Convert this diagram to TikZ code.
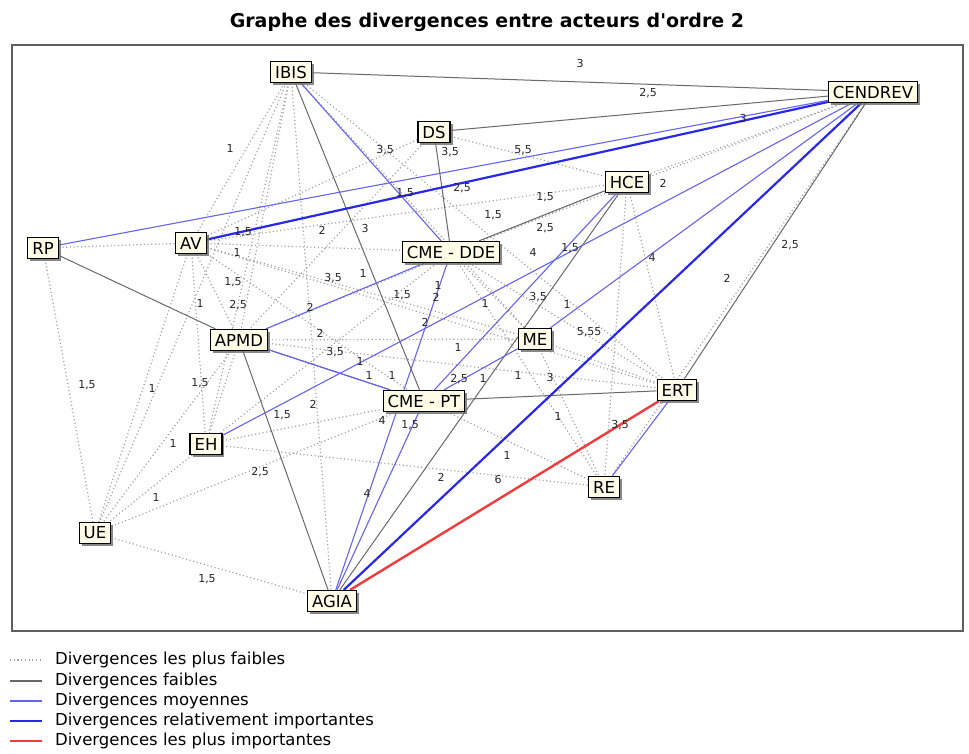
\documentclass[tikz,border=0pt]{standalone}
\usepackage{fontspec}
\setmainfont{DejaVu Sans}
\newfontfamily\ttlfont{DejaVu Sans}
\usetikzlibrary{shadows,backgrounds}
\definecolor{dotc}{RGB}{160,160,160}
\definecolor{weakc}{RGB}{105,105,105}
\definecolor{midc}{RGB}{100,100,240}
\definecolor{strc}{RGB}{40,40,230}
\definecolor{maxc}{RGB}{240,60,60}
\definecolor{boxc}{RGB}{255,253,232}
\definecolor{framec}{RGB}{95,95,95}
\tikzset{
  actor/.style={draw=black, line width=1.2pt, fill=boxc, inner xsep=4.5pt, inner ysep=2pt,
    minimum height=21pt, font=\fontsize{16.5}{17}\selectfont,
    drop shadow={shadow xshift=2.5pt, shadow yshift=-2.5pt, fill=black!55, opacity=0.85}},
  lbl/.style={font=\fontsize{11}{11}\selectfont, inner sep=0.5pt, text=black!85},
  dotl/.style={draw=dotc, line width=1.2pt, dash pattern=on 1.1pt off 2.6pt},
  weakl/.style={draw=weakc, line width=1pt},
  midl/.style={draw=midc, line width=1.1pt},
  strl/.style={draw=strc, line width=2.2pt},
  maxl/.style={draw=maxc, line width=2.4pt},
  legtxt/.style={anchor=west, font=\fontsize{16.5}{17}\selectfont, inner sep=0pt}
}
\begin{document}
\begin{tikzpicture}[x=1pt,y=-1pt]
\useasboundingbox (0,0) rectangle (969,754);
\node[font=\ttlfont\fontsize{19}{21}\selectfont\bfseries] (title) at (487,22) {Graphe des divergences entre acteurs d'ordre 2};

% actors
\node[actor] (ibis) at (291,72) {IBIS};
\node[actor] (cendrev) at (873,92) {CENDREV};
\node[actor] (ds) at (434,132) {DS};
\node[actor] (hce) at (627,182) {HCE};
\node[actor] (rp) at (43,248) {RP};
\node[actor] (av) at (191,243) {AV};
\node[actor] (cmedde) at (451,252) {CME - DDE};
\node[actor] (apmd) at (239,340) {APMD};
\node[actor] (me) at (535,339) {ME};
\node[actor] (cmept) at (424,401) {CME - PT};
\node[actor] (ert) at (677,390) {ERT};
\node[actor] (eh) at (206,444) {EH};
\node[actor] (re) at (604,487) {RE};
\node[actor] (ue) at (95,533) {UE};
\node[actor] (agia) at (332,601) {AGIA};

\begin{pgfonlayer}{background}
\draw[framec, line width=1.8pt] (12,45) rectangle (963,631);
% weakest (dotted)
\foreach \a/\b in {ibis/av, ibis/apmd, ibis/eh, ibis/ue, ibis/agia, ibis/ert, ibis/me,
  rp/av, rp/ue, av/cmedde, av/cmept, av/apmd, av/eh, av/ue, av/me, av/ert, av/hce,
  ds/apmd, ds/hce, ds/av, cendrev/hce, cendrev/cmedde, cendrev/re,
  hce/re, hce/ert, hce/apmd, cmedde/ert, cmedde/me, cmedde/re, cmedde/eh,
  apmd/eh, apmd/me, apmd/ert, apmd/ue, eh/cmept, eh/re, eh/ue,
  ue/agia, ue/cmept, cmept/re, me/ert, me/re}
  \draw[dotl] (\a) -- (\b);
% weak
\foreach \a/\b in {ibis/cendrev, ds/cendrev, ibis/cmept, ds/cmedde, hce/cmedde, hce/agia,
  cmept/ert, apmd/agia, rp/apmd, apmd/cmept, cendrev/ert}
  \draw[weakl] (\a) -- (\b);
% medium
\foreach \a/\b in {rp/cendrev, ibis/cmedde, apmd/cmedde, apmd/cmept, eh/cendrev,
  cmedde/agia, cmept/agia, hce/cmept, cendrev/me, me/cmept, ert/re}
  \draw[midl] (\a) -- (\b);
% relatively important
\draw[strl] (av) -- (cendrev);
\draw[strl] (agia) -- (cendrev);
% most important
\draw[maxl] (agia) -- (ert);
\end{pgfonlayer}

% edge labels
\foreach \t/\x/\y [count=\i] in {3/580/63, {2,5}/648/93, 3/743/118, 1/230/148, {3,5}/385/150,
  {3,5}/450/152, {5,5}/523/150, {2,5}/462/188, {1,5}/405/193, {1,5}/545/197, 2/663/183,
  {1,5}/493/215, {1,5}/243/232, 2/322/230, 3/365/228, {2,5}/545/228, 1/237/252, 4/533/252,
  {1,5}/570/248, 4/652/257, {2,5}/790/245, 1/363/273, {3,5}/333/278, {1,5}/233/282,
  2/727/278, 1/200/303, {2,5}/238/305, 2/310/307, {1,5}/402/295, 1/438/285, 2/436/297,
  1/485/303, {3,5}/538/297, 1/567/304, 2/425/322, {5,55}/589/332, 2/320/333,
  {3,5}/335/352, 1/458/347, 1/360/361, 1/369/375, 1/392/375, {2,5}/459/379, 1/483/378,
  1/518/375, 3/550/377, {1,5}/87/385, 1/152/388, {1,5}/200/383, {1,5}/282/415, 2/313/404,
  4/382/420, {1,5}/410/425, 1/558/416, {3,5}/620/425, 1/173/443, {2,5}/260/472, 2/441/477,
  6/498/479, 1/507/455, 1/156/497, 4/367/493, {1,5}/207/579}
  \node[lbl] (lab\i) at (\x,\y) {\t};

% legend
\coordinate (g1a) at (10,660); \coordinate (g1b) at (42,660);
\coordinate (g2a) at (10,681); \coordinate (g2b) at (42,681);
\coordinate (g3a) at (10,701); \coordinate (g3b) at (42,701);
\coordinate (g4a) at (10,721); \coordinate (g4b) at (42,721);
\coordinate (g5a) at (10,741); \coordinate (g5b) at (42,741);
\draw[dotl] (g1a) -- (g1b);
\draw[weakl, line width=1.3pt] (g2a) -- (g2b);
\draw[midl, line width=1.5pt] (g3a) -- (g3b);
\draw[strl, line width=2.6pt] (g4a) -- (g4b);
\draw[maxl, line width=2.6pt] (g5a) -- (g5b);
\node[legtxt] (t1) at (55,660) {Divergences les plus faibles};
\node[legtxt] (t2) at (55,681) {Divergences faibles};
\node[legtxt] (t3) at (55,701) {Divergences moyennes};
\node[legtxt] (t4) at (55,721) {Divergences relativement importantes};
\node[legtxt] (t5) at (55,741) {Divergences les plus importantes};
\end{tikzpicture}
\end{document}
